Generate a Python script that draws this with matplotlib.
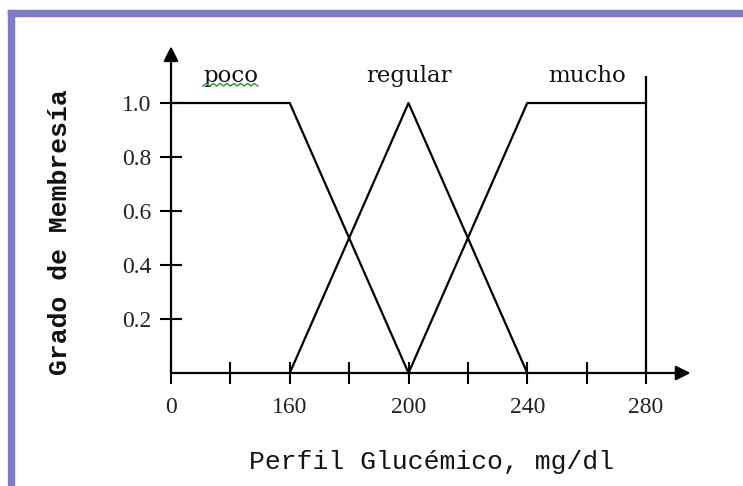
import numpy as np
import matplotlib
matplotlib.use("Agg")
import matplotlib.pyplot as plt
from matplotlib.patches import Rectangle
from matplotlib.lines import Line2D

# membership functions (glucose mg/dl -> degree)
poco_x = [0, 160, 200]
poco_y = [1.0, 1.0, 0.0]
regular_x = [160, 200, 240]
regular_y = [0.0, 1.0, 0.0]
mucho_x = [200, 240, 280]
mucho_y = [0.0, 1.0, 1.0]

set_names = ["poco", "regular", "mucho"]
set_label_x = [80, 200, 260]

x_major = [0, 160, 200, 240, 280]
x_minor = [80, 180, 220, 260]
y_ticks = [0.2, 0.4, 0.6, 0.8, 1.0]
y_ticklabels = ["0.2", "0.4", "0.6", "0.8", "1.0"]


# compressed axis: 0-160 takes the same room as 160-200
def fwd(x):
    x = np.asarray(x, dtype=float)
    return np.where(x <= 160, x / 4.0, x - 120.0)


def inv(t):
    t = np.asarray(t, dtype=float)
    return np.where(t <= 40, t * 4.0, t + 120.0)


fig = plt.figure(figsize=(7.43, 4.86), dpi=100)
fig.patch.set_facecolor("white")

# purple frame on top and left
frame_col = "#7f7bc2"
fig.patches.append(Rectangle((8 / 743, 0), 6 / 743, 1 - 10 / 486,
                             transform=fig.transFigure, color=frame_col, zorder=0))
fig.patches.append(Rectangle((8 / 743, 1 - 16 / 486), 1, 6 / 486,
                             transform=fig.transFigure, color=frame_col, zorder=0))

ax = fig.add_axes([171 / 743, 1 - 373 / 486, 475 / 743, 270 / 486])
ax.set_xscale("function", functions=(fwd, inv))
ax.set_xlim(0, 280)
ax.set_ylim(0, 1)
ax.patch.set_alpha(0)
for s in ax.spines.values():
    s.set_visible(False)

lw = 1.6
ax.plot(poco_x, poco_y, color="black", lw=lw, clip_on=False)
ax.plot(regular_x, regular_y, color="black", lw=lw, clip_on=False)
ax.plot(mucho_x, mucho_y, color="black", lw=lw, clip_on=False)
ax.vlines(280, 0, 1.1, color="black", lw=lw, clip_on=False)

# axes with arrows
arr = dict(arrowstyle="-|>", color="black", lw=lw, mutation_scale=22,
           shrinkA=0, shrinkB=0)
ax.annotate("", xy=(0, 1.21), xytext=(0, 0), arrowprops=arr, annotation_clip=False)
ax.annotate("", xy=(295, 0), xytext=(0, 0), arrowprops=arr, annotation_clip=False)

ax.set_xticks(x_major)
ax.set_xticklabels([str(v) for v in x_major])
ax.set_xticks(x_minor, minor=True)
ax.set_yticks(y_ticks)
ax.set_yticklabels(y_ticklabels)
ax.tick_params(axis="both", which="both", direction="inout", length=16,
               width=1.5, color="black")
ax.tick_params(axis="x", pad=9)
ax.tick_params(axis="y", pad=6)
for lab in ax.get_xticklabels() + ax.get_yticklabels():
    lab.set_family("Liberation Serif")
    lab.set_fontsize(17)
    lab.set_color("#222222")

texts = []
for name, xv in zip(set_names, set_label_x):
    texts.append(ax.text(xv, 1.1, name, ha="center", va="center",
                         family="DejaVu Serif", fontsize=16.5, color="#111111"))

fig.text(60 / 743, 1 - 232 / 486, "Grado de Membresía", rotation=90,
         ha="center", va="center", family="Liberation Mono",
         fontweight="bold", fontsize=19, color="#111111")
fig.text(432 / 743, 1 - 462 / 486, "Perfil Glucémico, mg/dl",
         ha="center", va="center", family="Liberation Mono",
         fontsize=19, color="#111111")

# green spell-check squiggle under "poco"
fig.canvas.draw()
bb = texts[0].get_window_extent()
zx = np.linspace(bb.x0, bb.x1, 17)
zy = bb.y0 + 1 + np.tile([0, 2.5], 9)[:17]
fig.lines.append(Line2D(zx, zy, transform=None, color="#3a9a3a", lw=1.1))

fig.savefig("out.png", dpi=100)
